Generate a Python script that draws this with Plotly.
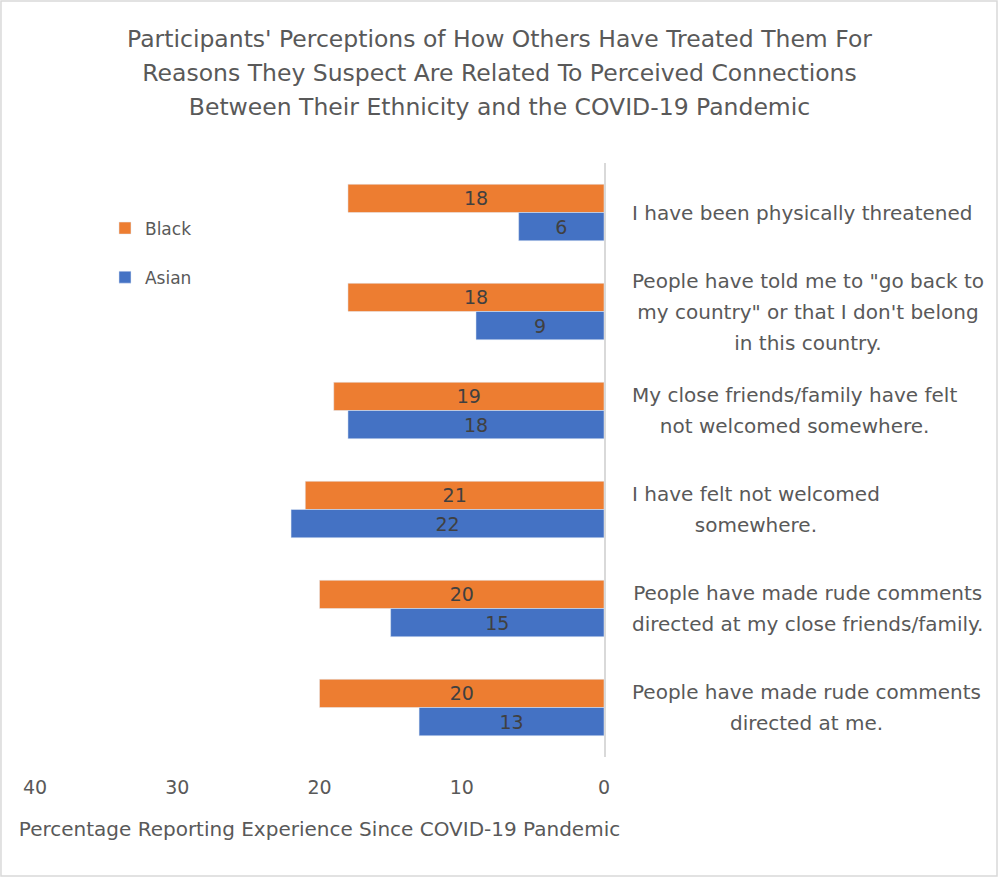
import plotly.graph_objects as go

categories = [
    "I have been physically threatened",
    "People have told me to \"go back to<br>my country\" or that I don't belong<br>in this country.",
    "My close friends/family have felt<br>not welcomed somewhere.",
    "I have felt not welcomed<br>somewhere.",
    "People have made rude comments<br>directed at my close friends/family.",
    "People have made rude comments<br>directed at me.",
]
black_values = [18, 18, 19, 21, 20, 20]
asian_values = [6, 9, 18, 22, 15, 13]
x_ticks = [0, 10, 20, 30, 40]

title_lines = [
    "Participants' Perceptions of How Others Have Treated Them For",
    "Reasons They Suspect Are Related To Perceived Connections",
    "Between Their Ethnicity and the COVID-19 Pandemic",
]
x_title = "Percentage Reporting Experience Since COVID-19 Pandemic"

FONT = "DejaVu Sans"
GRAY = "#595959"
LBL = "#404040"


def spaced(text, size):
    # wrap each line in a span so the line spacing follows the outer font size
    return "<br>".join(f"<span style='font-size:{size}px'>{ln}</span>" for ln in text.split("<br>"))


fig = go.Figure()
fig.add_trace(go.Bar(
    y=categories, x=black_values, orientation="h", name="Black",
    marker_color="#ED7D31", text=black_values, textposition="inside",
    insidetextanchor="middle", textangle=0, legendgroup="b",
    textfont=dict(family=FONT, size=19, color=LBL),
))
fig.add_trace(go.Bar(
    y=categories, x=asian_values, orientation="h", name="Asian",
    marker_color="#4472C4", text=asian_values, textposition="inside",
    insidetextanchor="middle", textangle=0, legendgroup="a",
    textfont=dict(family=FONT, size=19, color=LBL),
))

for c in categories:
    fig.add_annotation(
        x=1.0457, xref="paper", y=c, yref="y", text=spaced(c, 20), showarrow=False,
        xanchor="left", align="center",
        font=dict(family=FONT, size=24, color=GRAY),
    )

# light chart-area border
fig.add_shape(type="rect", xref="paper", yref="paper",
              x0=-0.0598, x1=1.6907, y0=-0.2003, y1=1.2727,
              line=dict(color="#d9d9d9", width=1.5), fillcolor="rgba(0,0,0,0)", layer="below")

fig.update_layout(
    width=999, height=878,
    margin=dict(l=35, r=395, t=163, b=121),
    paper_bgcolor="white", plot_bgcolor="white",
    barmode="group", bargap=0.43, bargroupgap=0,
    title=dict(text=spaced("<br>".join(title_lines), 23.5), x=0.5, xref="container", xanchor="center",
               y=0.9465, yanchor="top", yref="container",
               font=dict(family=FONT, size=26, color=GRAY)),
    font=dict(family=FONT, color=GRAY),
    xaxis=dict(range=[40, 0], tickvals=x_ticks, showgrid=False, zeroline=False,
               showline=False, ticks="", ticklabelstandoff=17,
               tickfont=dict(family=FONT, size=19, color=GRAY),
               title=dict(text=x_title, font=dict(family=FONT, size=20, color=GRAY), standoff=24)),
    yaxis=dict(autorange="reversed", side="right", showticklabels=False, showgrid=False,
               showline=True, linecolor="#d9d9d9", linewidth=1.5, ticks=""),
    legend=dict(x=0.123, y=0.92, xanchor="left", yanchor="top", traceorder="grouped",
                tracegroupgap=24,
                font=dict(family=FONT, size=17, color=GRAY), bgcolor="rgba(0,0,0,0)"),
)

fig.write_html("out.html", config={"displayModeBar": False},
               post_script="document.body.style.margin='0';")
